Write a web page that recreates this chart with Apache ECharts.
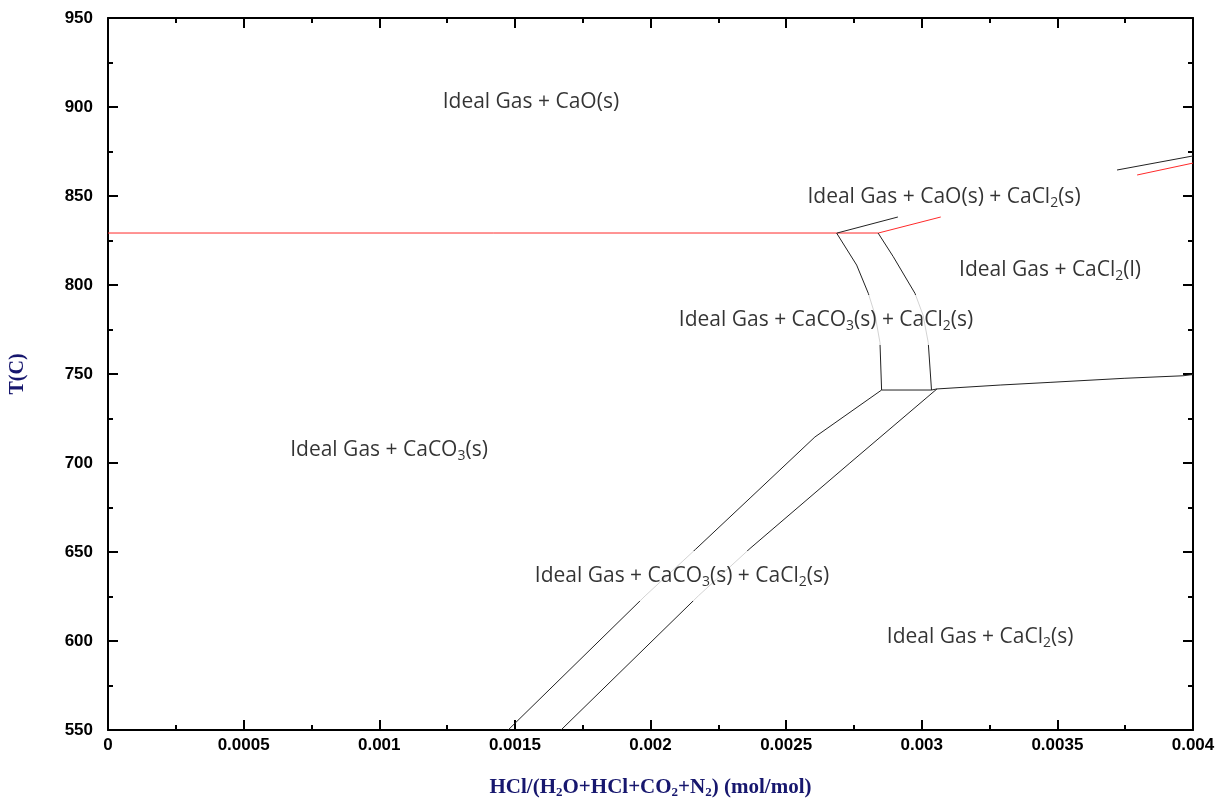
<!DOCTYPE html>
<html><head><meta charset="utf-8">
<script src="https://cdn.jsdelivr.net/npm/echarts@6/dist/echarts.min.js"></script>
<style>html,body{margin:0;padding:0;background:#fff;overflow:hidden}#c{width:1218px;height:800px}</style>
</head><body><div id="c"></div>
<script>
// ---- data (x = HCl mole fraction, y = T in C) ----
const xTicks = [0, 0.0005, 0.001, 0.0015, 0.002, 0.0025, 0.003, 0.0035, 0.004];
const yTicks = [550, 600, 650, 700, 750, 800, 850, 900, 950];

const redMain = [[0, 829.2], [0.00284, 829.2], [0.00307, 838.2]];
const redTopRight = [[0.003794, 861.8], [0.004, 868.5]];
const blackShort = [[0.002688, 829.2], [0.002912, 838.2]];
const blackTopRight = [[0.00372, 864.6], [0.004, 872.5]];
const leftCurve = [[0.002686, 829.2], [0.00276, 811.2], [0.002803, 795.3], [0.002828, 783.1], [0.002846, 767.6], [0.002852, 741.0]];
const rightCurve = [[0.002839, 829.2], [0.002895, 815.9], [0.002975, 795.3], [0.003005, 783.0], [0.003024, 767.6], [0.003036, 741.0]];
const bottomJoin = [[0.002852, 741.0], [0.003036, 741.0]];
const liquidusLine = [[0.003036, 741.0], [0.003056, 741.6], [0.003289, 743.8], [0.003473, 745.3], [0.003749, 747.6], [0.003963, 749.0], [0.004, 749.7]];
const leftDiagonal = [[0.001475, 550], [0.00198, 625.3], [0.002166, 651.5], [0.002367, 680.3], [0.002606, 714.6], [0.002852, 741.0]];
const rightDiagonal = [[0.00167, 550], [0.002176, 625.3], [0.002367, 652.0], [0.002735, 700.0], [0.003056, 741.6]];

const plainLabels = [
  [0.001559, 902.8, 'Ideal Gas + CaO(s)'],
  [0.003082, 849.4, 'Ideal Gas + CaO(s) + CaCl{s|2}(s)'],
  [0.003473, 808.4, 'Ideal Gas + CaCl{s|2}(l)'],
  [0.001036, 707.3, 'Ideal Gas + CaCO{s|3}(s)'],
  [0.003215, 602.2, 'Ideal Gas + CaCl{s|2}(s)']
];
const boxedLabels = [
  [0.002647, 780.3, 'Ideal Gas + CaCO{s|3}(s) + CaCl{s|2}(s)'],
  [0.002116, 636.5, 'Ideal Gas + CaCO{s|3}(s) + CaCl{s|2}(s)']
];
const xName = 'HCl/(H{n|2}O+HCl+CO{n|2}+N{n|2}) (mol/mol)';
const yName = 'T(C)';

// ---- chart ----
const chart = echarts.init(document.getElementById('c'), null, {width: 1218, height: 800});
const AX = '#000';
const NAVY = '#17176e';
function xAx(pos, showLabel) {
  return {
    type: 'value', position: pos, min: 0, max: 0.004, interval: 0.0005,
    axisLine: {onZero: false, lineStyle: {color: AX, width: 2}},
    axisTick: {show: true, inside: true, length: 10, lineStyle: {color: AX, width: 2}},
    minorTick: {show: true, splitNumber: 2, length: 5, lineStyle: {color: AX, width: 2}},
    splitLine: {show: false},
    axisLabel: {show: showLabel, margin: 7, color: '#000', fontFamily: 'Liberation Sans', fontWeight: 'bold', fontSize: 17,
      formatter: v => String(parseFloat(v.toFixed(4)))},
    name: showLabel ? xName : '', nameLocation: 'middle', nameGap: 47,
    nameTextStyle: {color: NAVY, fontFamily: 'Liberation Serif', fontWeight: 'bold', fontSize: 21, lineHeight: 22,
      rich: {n: {fontSize: 13, fontFamily: 'Liberation Serif', fontWeight: 'bold', color: NAVY, verticalAlign: 'bottom', lineHeight: 11}}}
  };
}
function yAx(pos, showLabel) {
  return {
    type: 'value', position: pos, min: 550, max: 950, interval: 50,
    axisLine: {onZero: false, lineStyle: {color: AX, width: 2}},
    axisTick: {show: true, inside: true, length: 10, lineStyle: {color: AX, width: 2}},
    minorTick: {show: true, splitNumber: 2, length: 5, lineStyle: {color: AX, width: 2}},
    splitLine: {show: false},
    axisLabel: {show: showLabel, margin: 15, color: '#000', fontFamily: 'Liberation Sans', fontWeight: 'bold', fontSize: 17},
    name: showLabel ? yName : '', nameLocation: 'middle', nameGap: 80, nameRotate: 90,
    nameTextStyle: {color: NAVY, fontFamily: 'Liberation Serif', fontWeight: 'bold', fontSize: 20}
  };
}
function ln(data, color) {
  return {type: 'line', data: data, showSymbol: false, symbol: 'none', silent: true,
    lineStyle: {color: color, width: 1}, z: 2};
}
const labelBase = {
  show: true, position: 'inside', color: '#000', fontFamily: 'Open Sans', fontSize: 21, lineHeight: 26,
  formatter: p => p.data[2],
  rich: {s: {fontSize: 14, fontFamily: 'Open Sans', color: '#000', verticalAlign: 'bottom', lineHeight: 14}}
};
chart.setOption({
  animation: false,
  backgroundColor: '#fff',
  grid: {left: 108, top: 18, width: 1085, height: 712, containLabel: false, outerBoundsMode: 'none'},
  xAxis: [xAx('bottom', true), xAx('top', false)],
  yAxis: [yAx('left', true), yAx('right', false)],
  series: [
    ln(redMain, '#ff2a2a'), ln(redTopRight, '#ff2a2a'),
    ln(blackShort, '#222'), ln(blackTopRight, '#222'),
    ln(leftCurve, '#222'), ln(rightCurve, '#222'), ln(bottomJoin, '#222'),
    ln(liquidusLine, '#222'), ln(leftDiagonal, '#222'), ln(rightDiagonal, '#222'),
    {type: 'scatter', data: plainLabels, symbolSize: 0, silent: true, z: 5, label: labelBase},
    {type: 'scatter', data: boxedLabels, symbolSize: 0, silent: true, z: 6,
      label: Object.assign({}, labelBase, {backgroundColor: '#fff', padding: [12, 2]})}
  ]
});
</script></body></html>
